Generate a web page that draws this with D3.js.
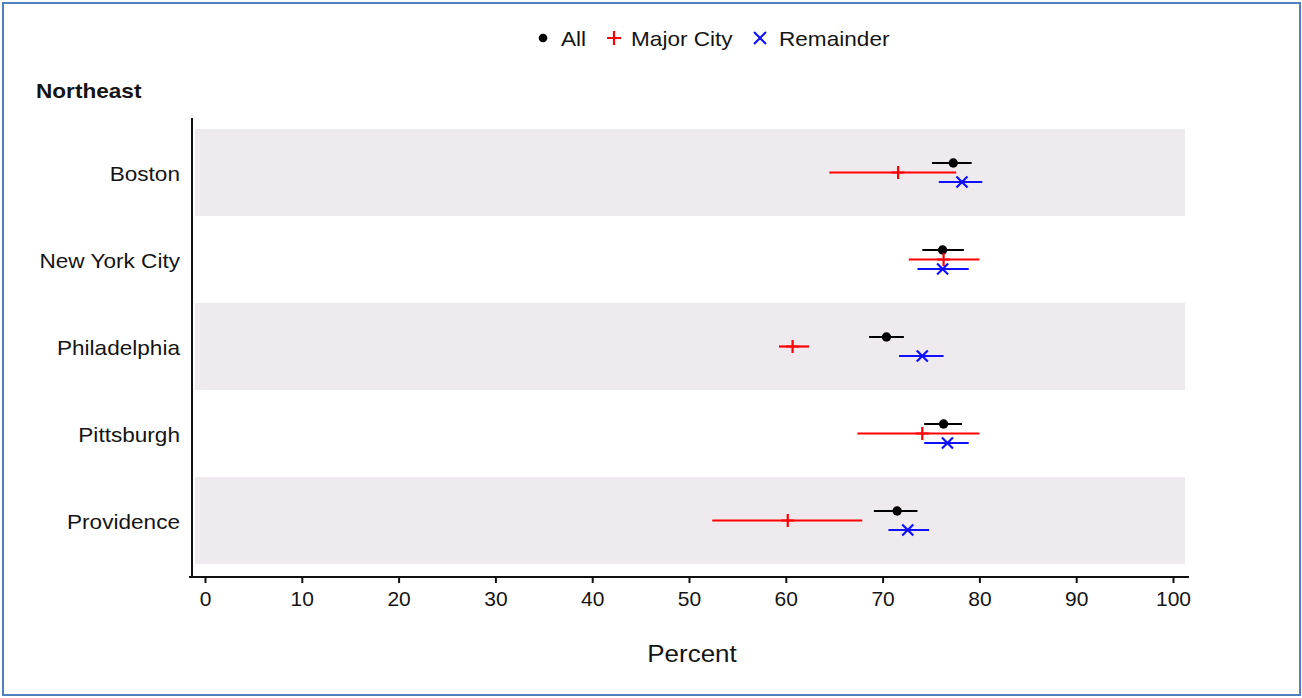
<!DOCTYPE html>
<html>
<head>
<meta charset="utf-8">
<script src="https://cdn.jsdelivr.net/npm/d3@7"></script>
<style>
    body { margin: 0; background: #fff; }
    text { font-family: "Liberation Sans", Arial, sans-serif; fill: #141414; }
</style>
</head>
<body>
<div id="chart"></div>
<script>

// DATA
// ================================================================================== //

const cities = ["Boston", "New York City", "Philadelphia", "Pittsburgh", "Providence"];
const seriesNames = ["All", "Major City", "Remainder"];
const xTicks = [0, 10, 20, 30, 40, 50, 60, 70, 80, 90, 100];

// point estimate and interval per city, one array per series
const allEst = [77.3, 76.2, 70.4, 76.3, 71.5];
const allLow = [75.1, 74.1, 68.6, 74.3, 69.1];
const allHigh = [79.2, 78.4, 72.2, 78.2, 73.6];

const majorEst = [71.6, 76.3, 60.7, 74.1, 60.2];
const majorLow = [64.5, 72.7, 59.3, 67.4, 52.4];
const majorHigh = [77.6, 80.0, 62.4, 80.0, 67.9];

const remEst = [78.2, 76.2, 74.1, 76.7, 72.6];
const remLow = [75.8, 73.6, 71.7, 74.3, 70.6];
const remHigh = [80.3, 78.9, 76.3, 78.9, 74.8];

// ================================================================================== //
// DATA END

const width = 1302;
const height = 698;
const stretch = 1.13; // text in the original is a bit wider than the font

const colors = { "All": "#000000", "Major City": "#ff0000", "Remainder": "#1010ff" };
const offsets = { "All": -9.5, "Major City": 0, "Remainder": 9.5 };

const rows = [];
cities.forEach((c, i) => {
    rows.push({ city: c, series: "All", est: allEst[i], low: allLow[i], high: allHigh[i] });
    rows.push({ city: c, series: "Major City", est: majorEst[i], low: majorLow[i], high: majorHigh[i] });
    rows.push({ city: c, series: "Remainder", est: remEst[i], low: remLow[i], high: remHigh[i] });
});

const svg = d3.select("#chart")
    .append("svg")
    .attr("width", width)
    .attr("height", height);

// places a horizontally stretched text
const addText = (parent, tx, ty, str, size, anchor, weight) => parent.append("text")
    .attr("transform", `translate(${tx},${ty}) scale(${stretch},1)`)
    .attr("text-anchor", anchor || "start")
    .style("font-size", size + "px")
    .style("font-weight", weight || "normal")
    .text(str);

// frame
svg.append("rect")
    .attr("x", 3).attr("y", 3)
    .attr("width", 1297).attr("height", 692)
    .attr("fill", "#fff")
    .attr("stroke", "#4f81bd")
    .attr("stroke-width", 2);

const x = d3.scaleLinear()
    .domain([0, 100])
    .range([205, 1173]);

const y = d3.scaleBand()
    .domain(cities)
    .range([129, 564]);

// alternating bands
svg.append("g")
    .selectAll("rect")
    .data(cities.filter((d, i) => i % 2 === 0))
    .enter()
    .append("rect")
    .attr("x", 195)
    .attr("y", d => y(d))
    .attr("width", 1185 - 195)
    .attr("height", y.bandwidth())
    .attr("fill", "#eeeaee");

// x axis
const xAxis = svg.append("g")
    .attr("transform", "translate(0,577)")
    .call(d3.axisBottom(x).tickValues(xTicks).tickSize(6).tickPadding(9).tickSizeOuter(0));
xAxis.select(".domain").remove();
xAxis.append("line")
    .attr("x1", 189).attr("x2", 1189)
    .attr("stroke", "#111").attr("stroke-width", 2);
xAxis.selectAll(".tick line").attr("stroke", "#111").attr("stroke-width", 2);
xAxis.selectAll(".tick text")
    .attr("fill", "#141414")
    .attr("transform", "scale(1.05,1)")
    .style("font-size", "20px")
    .style("font-family", "'Liberation Sans', Arial, sans-serif");

// y axis line
svg.append("line")
    .attr("x1", 192).attr("x2", 192)
    .attr("y1", 118).attr("y2", 578)
    .attr("stroke", "#111").attr("stroke-width", 2);

// city labels
const labels = svg.append("g");
cities.forEach(c => addText(labels, 180, y(c) + y.bandwidth() / 2 + 8, c, 20, "end"));

addText(svg, 36, 98, "Northeast", 20, "start", "bold");
addText(svg, 692, 662, "Percent", 23, "middle");

// error bars
const marks = svg.append("g")
    .selectAll("g")
    .data(rows)
    .enter()
    .append("g")
    .attr("transform", d => `translate(0,${y(d.city) + y.bandwidth() / 2 + offsets[d.series]})`);

marks.append("line")
    .attr("x1", d => x(d.low))
    .attr("x2", d => x(d.high))
    .attr("stroke", d => colors[d.series])
    .attr("stroke-width", 2.2);

// markers
const drawMarker = (g, series, size) => {
    if (series === "All") {
        g.append("circle").attr("r", size * 0.72).attr("fill", colors[series]);
    } else if (series === "Major City") {
        g.append("path")
            .attr("d", `M${-size},0H${size}M0,${-size}V${size}`)
            .attr("stroke", colors[series]).attr("stroke-width", 2.2).attr("fill", "none");
    } else {
        const s = size * 0.85;
        g.append("path")
            .attr("d", `M${-s},${-s}L${s},${s}M${-s},${s}L${s},${-s}`)
            .attr("stroke", colors[series]).attr("stroke-width", 2.2).attr("fill", "none");
    }
};

marks.each(function (d) {
    const g = d3.select(this).append("g").attr("transform", `translate(${x(d.est)},0)`);
    drawMarker(g, d.series, 6.5);
});

// legend
const legendPos = [
    { name: "All", mx: 543, tx: 561 },
    { name: "Major City", mx: 614, tx: 631 },
    { name: "Remainder", mx: 760, tx: 779 }
];
const legend = svg.append("g").attr("transform", "translate(0,38)");
legendPos.forEach(l => {
    drawMarker(legend.append("g").attr("transform", `translate(${l.mx},0)`), l.name, l.name === "All" ? 6 : 7);
    addText(legend, l.tx, 8, l.name, 20, "start");
});

</script>
</body>
</html>
